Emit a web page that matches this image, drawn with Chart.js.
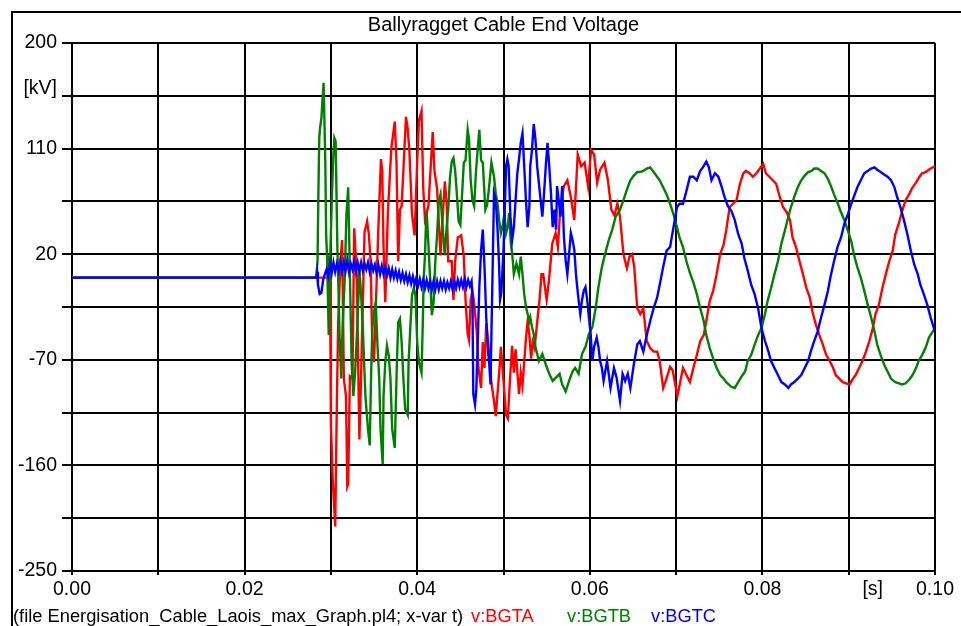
<!DOCTYPE html>
<html>
<head>
<meta charset="utf-8">
<title>Ballyragget Cable End Voltage</title>
<script src="https://cdn.jsdelivr.net/npm/chart.js@4.4.1/dist/chart.umd.min.js"></script>
<style>
  html, body { margin: 0; padding: 0; background: #fff; }
  canvas { display: block; }
</style>
</head>
<body>
<canvas id="plot" width="961" height="626"></canvas>
<script>
// ---- labels -------------------------------------------------------------
const chartTitle = 'Ballyragget Cable End Voltage';
const sourceNote = '(file Energisation_Cable_Laois_max_Graph.pl4; x-var t)';
const seriesNames = ['v:BGTA', 'v:BGTB', 'v:BGTC'];
const seriesColors = ['#ff0000', '#008000', '#0000ff'];

// ---- axes ---------------------------------------------------------------
const timeTicks = [0, 0.01, 0.02, 0.03, 0.04, 0.05, 0.06, 0.07, 0.08, 0.09, 0.1];
const timeTickLabels = ['0.00', '', '0.02', '', '0.04', '', '0.06', '', '0.08', '', '0.10'];
const timeUnit = '[s]';
const voltTicks = [-250, -205, -160, -115, -70, -25, 20, 65, 110, 155, 200];
const voltTickLabels = ['-250', '', '-160', '', '-70', '', '20', '', '110', ['[kV]', ''], '200'];

// ---- samples: [time in ms, voltage in kV] -------------------------------
const phaseA = [
  [0,0],[29.9,0],[30.0,-125],[30.2,-170],[30.5,-212],[30.7,-101],[30.85,-38],[31.1,14],[31.3,32],
  [31.5,-86],[31.75,-101],[31.9,-178],[32.0,-176],[32.2,-84],[32.5,-86],[32.7,42],[33.0,2],[33.3,-138],
  [33.5,-84],[33.9,39],[34.2,48],[34.4,37],[34.6,14],[34.8,-58],[35.0,-72],[35.3,-3],[35.5,42],
  [35.8,101],[35.95,91],[36.1,25],[36.3,-21],[36.6,55],[37.0,110],[37.4,133],[37.6,99],[37.8,14],
  [38.0,58],[38.2,61],[38.7,137],[38.9,127],[39.1,107],[39.4,54],[39.7,36],[40.0,99],[40.2,134],
  [40.5,142],[40.7,76],[40.9,50],[41.3,61],[41.8,124],[42.0,91],[42.3,76],[42.7,19],[42.9,45],
  [43.2,82],[43.4,65],[43.6,14],[44.0,14],[44.2,-19],[44.4,14],[44.7,34],[45.1,36],[45.4,18],
  [45.6,-19],[45.85,-48],[46.0,-53],[46.2,-19],[46.4,-11],[46.6,-22],[46.9,-46],[47.1,-77],[47.4,-94],
  [47.6,-55],[47.8,-77],[48.0,-39],[48.3,-60],[48.6,-90],[48.9,-105],[49.1,-118],[49.5,-81],[49.7,-59],
  [50.3,-117],[50.5,-120],[50.8,-81],[51.0,-58],[51.2,-81],[51.4,-61],[51.8,-99],[52.0,-81],[52.2,-92],
  [52.6,-52],[52.8,-37],[53.0,-49],[53.2,-69],[53.4,-55],[53.6,-60],[54.0,-31],[54.2,-17],[54.4,3],
  [54.6,3],[54.8,-8],[55.0,-19],[55.27,-2],[55.65,29],[56.04,38],[56.3,26],[56.6,61],[57.0,78],
  [57.4,83],[57.8,69],[58.2,49],[58.6,105],[59.0,95],[59.4,98],[59.8,78],[60.15,109],[60.5,105],
  [60.85,81],[61.2,92],[61.7,98],[62.1,83],[62.5,58],[62.85,53],[63.2,63],[63.5,52],[63.9,20],
  [64.3,8],[64.6,18],[64.9,20],[65.15,9],[65.5,-26],[65.85,-31],[66.2,-26],[66.6,-54],[67.0,-60],
  [67.4,-63],[67.8,-63],[68.1,-71],[68.5,-94],[68.8,-88],[69.3,-76],[69.6,-79],[70.15,-101],[70.5,-88],
  [70.8,-77],[71.2,-83],[71.6,-89],[72.0,-77],[72.4,-66],[72.8,-54],[73.2,-49],[73.5,-37],[73.9,-20],
  [74.3,-11],[74.7,3],[75.1,20],[75.5,28],[75.8,40],[76.2,60],[76.6,63],[77.0,66],[77.4,80],
  [77.8,89],[78.1,91],[78.5,89],[78.9,86],[79.3,89],[79.7,93],[80.1,97],[80.4,89],[80.8,86],
  [81.2,83],[81.6,80],[82.0,69],[82.4,60],[82.8,56],[83.2,49],[83.5,34],[83.9,26],[84.3,14],
  [84.7,3],[85.1,-9],[85.5,-17],[85.8,-29],[86.2,-40],[86.6,-49],[87.0,-57],[87.4,-66],[87.8,-71],
  [88.2,-77],[88.5,-83],[88.9,-86],[89.3,-89],[89.7,-90],[90.1,-91],[90.5,-86],[90.8,-83],[91.2,-77],
  [91.6,-71],[92.0,-63],[92.4,-54],[92.8,-43],[93.1,-31],[93.5,-23],[93.9,-9],[94.3,3],[94.7,14],
  [95.1,23],[95.4,37],[95.8,46],[96.2,57],[96.6,66],[97.0,71],[97.4,77],[97.8,81],[98.2,86],
  [98.5,89],[98.9,90],[99.5,93],[100,95]
];

const phaseB = [
  [0,0],[28.3,0],[28.45,14],[28.55,71],[28.65,119],[28.75,128],[28.9,136],[29.15,166],[29.25,134],
  [29.35,99],[29.45,36],[29.55,19],[29.65,-15],[29.75,-49],[29.85,-26],[29.95,25],[30.1,65],[30.25,99],
  [30.4,119],[30.55,116],[30.65,71],[30.75,25],[30.9,-15],[31.0,-49],[31.2,-86],[31.35,-43],[31.6,-1],
  [31.8,54],[32.0,77],[32.1,42],[32.25,-15],[32.4,-72],[32.6,-101],[32.8,-81],[33.05,-43],[33.2,-15],
  [33.3,8],[33.5,-15],[33.7,-43],[34.0,-101],[34.3,-129],[34.5,-143],[34.65,-86],[34.8,-43],[35.0,-29],
  [35.2,-21],[35.4,-58],[35.6,-86],[35.75,-129],[36.0,-159],[36.1,-101],[36.3,-72],[36.5,-58],[36.7,-66],
  [36.9,-86],[37.1,-129],[37.4,-145],[37.5,-115],[37.65,-72],[37.8,-38],[38.0,-35],[38.2,-55],[38.4,-86],
  [38.6,-112],[38.9,-117],[39.0,-72],[39.2,-43],[39.4,-15],[39.6,-9],[39.8,-15],[40.0,-55],[40.2,-72],
  [40.4,-78],[40.5,-81],[40.65,-38],[40.75,-1],[40.9,19],[41.0,42],[41.1,56],[41.3,28],[41.5,-1],
  [41.7,-32],[41.9,-21],[42.1,14],[42.3,36],[42.5,65],[42.7,71],[42.9,48],[43.1,28],[43.2,19],
  [43.4,42],[43.6,59],[43.8,85],[44.0,99],[44.2,102],[44.4,91],[44.6,71],[44.8,48],[45.0,45],
  [45.2,71],[45.4,98],[45.6,100],[45.85,126],[46.0,118],[46.2,83],[46.4,66],[46.6,61],[46.8,89],
  [47.0,109],[47.2,126],[47.4,100],[47.6,98],[47.9,58],[48.1,62],[48.3,75],[48.6,98],[48.9,86],
  [49.1,72],[49.3,63],[49.5,49],[49.7,38],[49.9,44],[50.1,55],[50.3,38],[50.5,44],[50.65,55],
  [50.85,29],[51.0,21],[51.2,3],[51.5,12],[51.8,3],[52.0,18],[52.2,3],[52.4,-14],[52.6,-25],
  [52.8,-31],[53.0,-37],[53.1,-34],[53.3,-42],[53.5,-48],[53.7,-59],[54.1,-71],[54.5,-65],[54.9,-74],
  [55.3,-82],[55.7,-88],[56.1,-85],[56.5,-82],[56.8,-91],[57.2,-97],[57.6,-88],[58.0,-80],[58.3,-77],
  [58.7,-82],[59.1,-65],[59.5,-59],[59.9,-48],[60.3,-42],[60.7,-25],[61.0,-8],[61.4,9],[61.8,21],
  [62.2,32],[62.6,41],[63.0,52],[63.5,58],[63.9,66],[64.3,75],[64.7,83],[65.1,87],[65.5,90],
  [65.8,90],[66.2,91],[66.6,93],[67.0,94],[67.4,90],[67.8,86],[68.1,83],[68.5,77],[68.9,71],
  [69.3,63],[69.7,54],[70.1,43],[70.4,34],[70.8,26],[71.2,14],[71.6,4],[72.0,-4],[72.4,-14],
  [72.8,-26],[73.2,-37],[73.5,-49],[73.9,-60],[74.3,-69],[74.7,-77],[75.1,-83],[75.5,-86],[75.8,-89],
  [76.4,-93],[76.8,-94],[77.2,-89],[77.6,-84],[78.0,-80],[78.3,-71],[78.7,-66],[79.1,-57],[79.5,-49],
  [79.9,-43],[80.3,-31],[80.6,-20],[81.0,-9],[81.4,3],[81.8,14],[82.2,29],[82.6,40],[82.9,49],
  [83.3,60],[83.7,69],[84.1,77],[84.5,83],[84.9,87],[85.3,90],[85.7,91],[86.0,93],[86.4,93],
  [86.8,91],[87.2,89],[87.6,84],[88.0,77],[88.3,71],[88.7,64],[89.1,56],[89.5,49],[89.9,40],
  [90.3,31],[90.6,20],[91.0,9],[91.4,0],[91.8,-11],[92.2,-23],[92.6,-34],[93.0,-46],[93.3,-57],
  [93.7,-66],[94.1,-74],[94.5,-80],[94.9,-86],[95.4,-89],[96.2,-91],[96.6,-90],[97.0,-87],[97.4,-83],
  [97.8,-77],[98.1,-71],[98.5,-66],[98.9,-60],[99.3,-51],[100,-43]
];

const phaseC = [
  [0,0],[28.3,0],[28.4,5],[28.5,-6],[28.7,-14],[28.9,-13],[29.1,-2],[29.3,3],
  [29.5,7],[29.7,1],[29.9,12],[30.1,4],[30.3,13],[30.5,5],[30.7,12],[30.9,6],[31.1,14],[31.3,5],
  [31.5,13],[31.7,6],[31.9,15],[32.1,5],[32.3,12],[32.5,7],[32.7,14],[32.9,5],[33.1,13],[33.3,6],
  [33.5,13],[33.7,6],[33.9,12],[34.1,7],[34.3,13],[34.5,5],[34.7,12],[34.9,6],[35.1,11],[35.3,4],
  [35.5,11],[35.7,3],[35.9,10],[36.1,3],[36.3,9],[36.5,2],[36.7,8],[36.9,0],[37.1,7],[37.3,0],
  [37.5,6],[37.7,-1],[37.9,5],[38.1,-2],[38.3,4],[38.5,-3],[38.7,3],[38.9,-4],[39.1,2],[39.3,-5],
  [39.5,1],[39.7,-6],[39.9,0],[40.1,-7],[40.3,-1],[40.5,-8],[40.7,-2],[40.9,-9],[41.1,-2],[41.3,-9],
  [41.5,-3],[41.7,-10],[41.9,-3],[42.1,-10],[42.3,-3],[42.5,-10],[42.7,-3],[42.9,-9],[43.1,-3],[43.3,-10],
  [43.5,-4],[43.7,-9],[43.9,-3],[44.1,-10],[44.3,-3],[44.5,-9],[44.7,-2],[44.9,-8],[45.1,-2],[45.3,-8],
  [45.5,-1],[45.7,-8],[45.9,-2],[46.1,-7],[46.3,-3],
  [46.4,-19],[46.5,-99],[46.7,-108],[46.85,-95],[47.0,-59],
  [47.2,-8],[47.4,23],[47.6,41],[47.8,9],[48.0,-34],[48.2,-62],[48.35,-74],[48.5,-91],[48.6,-48],
  [48.75,11],[48.9,72],[49.1,66],[49.3,43],[49.5,9],[49.6,-19],[49.75,-13],[50.0,24],[50.3,95],
  [50.45,101],[50.6,95],[50.8,52],[51.0,32],[51.2,43],[51.4,66],[51.6,89],[51.8,101],[52.0,115],
  [52.2,123],[52.4,95],[52.6,66],[52.8,43],[53.0,61],[53.1,95],[53.3,109],[53.5,131],[53.7,118],
  [53.9,95],[54.3,66],[54.5,52],[54.7,72],[54.9,95],[55.1,115],[55.3,95],[55.5,72],[55.7,43],
  [55.9,58],[56.1,41],[56.2,78],[56.4,66],[56.6,52],[56.8,78],[57.0,35],[57.2,15],[57.4,3],
  [57.6,20],[57.8,38],[58.0,32],[58.2,24],[58.4,3],[58.5,-5],[58.7,-19],[58.9,-31],[59.1,-19],
  [59.3,-11],[59.5,-8],[59.7,-19],[59.9,-34],[60.1,-48],[60.3,-71],[60.5,-59],[60.8,-51],[61.0,-59],
  [61.2,-71],[61.4,-77],[61.6,-88],[62.0,-71],[62.4,-94],[62.8,-77],[63.1,-85],[63.5,-105],[63.8,-82],
  [64.1,-88],[64.4,-82],[64.7,-94],[65.1,-74],[65.5,-57],[65.8,-54],[66.2,-63],[66.6,-49],[67.0,-37],
  [67.4,-26],[67.8,-17],[68.1,-6],[68.5,9],[68.9,23],[69.3,26],[69.7,43],[70.1,60],[70.4,63],
  [70.8,63],[71.2,74],[71.6,86],[72.0,86],[72.4,83],[72.8,91],[73.1,94],[73.5,99],[73.8,94],
  [74.1,83],[74.5,89],[74.9,86],[75.3,77],[75.6,69],[76.0,61],[76.4,57],[76.8,49],[77.2,37],
  [77.6,29],[77.9,17],[78.3,6],[78.7,-6],[79.1,-14],[79.5,-26],[79.9,-43],[80.3,-54],[80.7,-63],
  [81.0,-71],[81.4,-77],[81.8,-83],[82.2,-89],[82.6,-91],[83.0,-94],[83.3,-91],[83.7,-89],[84.1,-86],
  [84.5,-83],[84.9,-77],[85.3,-71],[85.6,-63],[86.0,-54],[86.4,-46],[86.8,-34],[87.2,-23],[87.6,-11],
  [87.9,1],[88.3,14],[88.7,26],[89.1,34],[89.5,46],[89.9,54],[90.3,63],[90.7,71],[91.0,77],
  [91.4,83],[91.8,89],[92.2,91],[92.6,93],[93.0,94],[93.3,92],[93.7,90],[94.1,88],[94.5,86],
  [94.9,83],[95.3,77],[95.6,69],[96.0,60],[96.4,49],[96.8,37],[97.2,23],[97.6,11],[98.0,3],
  [98.3,-6],[98.7,-14],[99.1,-23],[99.5,-34],[100,-46]
];

// ---- drawing ------------------------------------------------------------
const fontFamily = '"Liberation Sans", Arial, Helvetica, sans-serif';
const toPoints = rows => rows.map(([ms, kv]) => ({ x: ms / 1000, y: kv }));

// Background, outer frame, title, unit of the time axis and the source line.
const decorations = {
  id: 'decorations',
  beforeDraw(chart) {
    const ctx = chart.ctx;
    ctx.save();
    ctx.fillStyle = '#ffffff';
    ctx.fillRect(0, 0, chart.width, chart.height);
    ctx.restore();
  },
  afterDraw(chart) {
    const { ctx, chartArea } = chart;
    const xs = chart.scales.x;
    ctx.save();

    ctx.strokeStyle = '#000';
    ctx.lineWidth = 2;
    ctx.beginPath();
    ctx.moveTo(12, chart.height);
    ctx.lineTo(12, 12);
    ctx.lineTo(chart.width, 12);
    ctx.stroke();

    ctx.fillStyle = '#000';
    ctx.font = '20px ' + fontFamily;
    ctx.textAlign = 'center';
    ctx.textBaseline = 'alphabetic';
    ctx.fillText(chartTitle, (chartArea.left + chartArea.right) / 2, 31);

    ctx.font = '19.5px ' + fontFamily;
    ctx.textBaseline = 'middle';
    ctx.fillText(timeUnit, xs.getPixelForValue(0.09) + 24, 590);

    ctx.font = '18.3px ' + fontFamily;
    ctx.textAlign = 'left';
    ctx.textBaseline = 'alphabetic';
    ctx.fillText(sourceNote, 13, 622);
    const nameX = [471, 567, 651];
    seriesNames.forEach((name, i) => {
      ctx.fillStyle = seriesColors[i];
      ctx.fillText(name, nameX[i], 622);
    });
    ctx.restore();
  }
};

const series = [phaseA, phaseB, phaseC];
new Chart(document.getElementById('plot'), {
  type: 'line',
  data: {
    datasets: series.map((rows, i) => ({
      label: seriesNames[i],
      data: toPoints(rows),
      borderColor: seriesColors[i],
      backgroundColor: seriesColors[i],
      borderWidth: 2.4,
      pointRadius: 0,
      tension: 0,
      fill: false,
      order: 2 - i
    }))
  },
  options: {
    responsive: false,
    animation: false,
    devicePixelRatio: 1,
    events: [],
    layout: { padding: { left: 0, top: 43, right: 26, bottom: 0 } },
    plugins: {
      legend: { display: false },
      title: { display: false },
      tooltip: { enabled: false }
    },
    scales: {
      x: {
        type: 'linear',
        min: 0,
        max: 0.1,
        afterBuildTicks: s => { s.ticks = timeTicks.map(v => ({ value: v })); },
        afterFit: s => { s.height = 55; },
        ticks: {
          autoSkip: false,
          maxRotation: 0,
          padding: 3,
          color: '#000',
          font: { family: fontFamily, size: 19.5 },
          callback: (v, i) => timeTickLabels[i]
        },
        grid: { color: '#000', lineWidth: 2, tickLength: 4, tickColor: '#000' },
        border: { color: '#000', width: 2 }
      },
      y: {
        type: 'linear',
        min: -250,
        max: 200,
        afterBuildTicks: s => { s.ticks = voltTicks.map(v => ({ value: v })); },
        afterFit: s => { s.width = 72; },
        ticks: {
          autoSkip: false,
          padding: 5,
          color: '#000',
          font: { family: fontFamily, size: 19.5, lineHeight: 0.7 },
          callback: (v, i) => voltTickLabels[i]
        },
        grid: { color: '#000', lineWidth: 2, tickLength: 10, tickColor: '#000' },
        border: { color: '#000', width: 2 }
      }
    }
  },
  plugins: [decorations]
});
</script>
</body>
</html>
